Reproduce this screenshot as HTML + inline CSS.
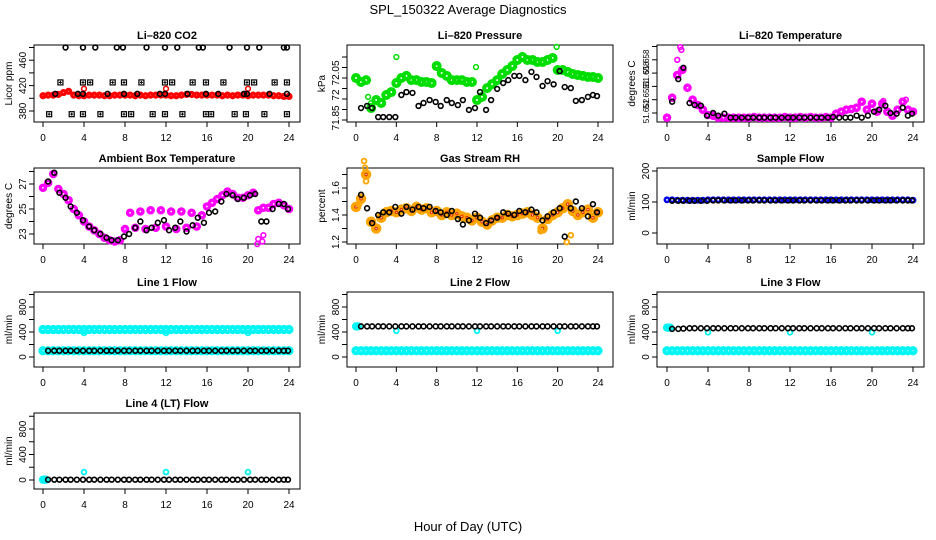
<!DOCTYPE html>
<html><head><meta charset="utf-8"><style>
html,body{margin:0;padding:0;background:#fff;}
svg{display:block;font-family:"Liberation Sans",Arial,sans-serif;}
.t{font-weight:bold;font-size:11px;text-anchor:middle;}
.tk{font-size:10px;text-anchor:middle;}
</style></head><body>
<svg id="chart" width="936" height="540" viewBox="0 0 936 540">
<text x="468" y="14" font-size="13" text-anchor="middle">SPL_150322  Average Diagnostics</text>
<text x="468" y="531" font-size="13" text-anchor="middle">Hour of Day (UTC)</text>
</svg>
<script>
// ---------- shared hour grids ----------
const halfHours = [0,0.5,1,1.5,2,2.5,3,3.5,4,4.5,5,5.5,6,6.5,7,7.5,8,8.5,9,9.5,10,10.5,11,11.5,12,12.5,13,13.5,14,14.5,15,15.5,16,16.5,17,17.5,18,18.5,19,19.5,20,20.5,21,21.5,22,22.5,23,23.5,24];
const sampleHours = [0.5,1.1,1.6,2.2,2.7,3.3,3.9,4.5,5.0,5.6,6.2,6.7,7.3,7.9,8.4,9.0,9.5,10.1,10.6,11.2,11.8,12.3,12.9,13.4,14.0,14.6,15.1,15.7,16.2,16.8,17.4,17.9,18.5,19.0,19.6,20.2,20.7,21.3,21.8,22.4,23.0,23.5,23.9];
const xTickValues = [0,4,8,12,16,20,24];

// ---------- CO2 ----------
const co2Red = [404,405,405,406,409,411,405,404,404,405,405,405,404,404,405,405,405,405,404,405,404,405,405,405,405,404,404,405,406,406,405,405,405,405,405,404,405,404,405,405,404,405,405,405,405,404,404,403,403];
const co2SpikeHours = [4,12,20];
const co2Spike = [415,415,415];
const co2TopHours = [2.2,3.9,5.1,7.2,7.8,10.1,11.9,13.1,15.2,15.6,18.2,19.9,21.1,23.5,23.8];
const co2Top = [480,480,480,480,480,480,480,480,480,480,480,480,480,480,480];
const co2MidHours = [1.2,3.4,3.9,6.3,7.9,9.2,11.4,11.9,14.1,15.9,17.1,19.6,19.9,22.1,23.8];
const co2Mid = [407,407,407,407,407,407,407,407,407,407,407,407,407,407,407];
const co2SqHiHours = [1.7,3.9,4.6,6.8,7.9,9.6,11.9,12.6,14.6,15.9,17.6,19.9,20.6,22.6,23.8];
const co2SqHi = [425,425,425,425,425,425,425,425,425,425,425,425,425,425,425];
const co2SqLoHours = [0.6,2.8,3.9,5.6,7.9,8.6,10.7,11.9,13.6,15.9,16.4,18.7,19.8,21.6,23.8];
const co2SqLo = [375,375,375,375,375,375,375,375,375,375,375,375,375,375,375];

// ---------- Pressure ----------
const presGreen = [72.050,72.031,72.040,71.907,71.945,71.931,71.969,71.983,72.026,72.050,72.060,72.040,72.040,72.031,72.031,72.026,72.107,72.074,72.060,72.040,72.040,72.040,72.031,72.031,71.945,71.960,72.002,72.021,72.040,72.069,72.088,72.107,72.136,72.150,72.136,72.136,72.126,72.126,72.136,72.145,72.088,72.088,72.079,72.069,72.064,72.060,72.055,72.055,72.050];
const presSpikeHours = [4.0,8.0,11.9,19.9,1.2,1.5];
const presSpike = [72.150,72.102,72.102,72.198,71.96,71.93];
const presBlack = [71.907,71.917,71.907,71.864,71.864,71.864,71.864,71.969,71.983,71.979,71.917,71.931,71.945,71.936,71.917,71.945,71.931,71.921,71.945,71.898,71.907,71.983,71.898,71.945,71.998,72.026,72.040,72.060,72.060,72.040,72.079,72.055,72.012,72.035,72.020,72.083,72.007,72.002,71.941,71.945,71.960,71.969,71.964];

// ---------- Li-820 temperature ----------
const liTempMag = [51.6503,51.6533,51.6567,51.6575,51.6548,51.6530,51.6522,51.6515,51.6507,51.6506,51.6503,51.6503,51.6503,51.6503,51.6503,51.6503,51.6503,51.6504,51.6503,51.6503,51.6503,51.6503,51.6503,51.6504,51.6503,51.6503,51.6504,51.6503,51.6504,51.6503,51.6503,51.6504,51.6503,51.6509,51.6512,51.6515,51.6516,51.6518,51.6527,51.6515,51.6524,51.6512,51.6524,51.6512,51.6506,51.6515,51.6527,51.6515,51.6512];
const liTempSpikeHours = [1.3,1.4,1.0,23.3,21.1];
const liTempSpike = [51.6609,51.6605,51.6590,51.6530,51.6528];
const liTempBlack = [51.6527,51.6561,51.6578,51.6525,51.6522,51.6521,51.6506,51.6510,51.6506,51.6509,51.6503,51.6503,51.6503,51.6503,51.6503,51.6503,51.6503,51.6503,51.6503,51.6503,51.6503,51.6503,51.6503,51.6503,51.6503,51.6503,51.6503,51.6503,51.6504,51.6503,51.6503,51.6503,51.6506,51.6503,51.6506,51.6512,51.6515,51.6521,51.6510,51.6509,51.6518,51.6506,51.6509];

// ---------- Ambient box temperature ----------
const ambMag = [26.7,27.1,27.8,26.6,26.2,25.7,25.0,24.5,24.0,23.6,23.3,23.0,22.7,22.5,22.4,22.5,23.4,24.7,23.5,24.8,23.4,24.9,23.5,24.9,23.6,24.8,23.4,24.8,23.5,24.7,23.6,24.5,25.2,25.5,25.8,26.1,26.4,26.2,25.9,25.9,26.1,26.3,24.9,25.1,25.1,25.4,25.5,25.3,25.0];
const ambLowHours = [20.9,21.0,21.4,21.5];
const ambLow = [22.2,22.6,22.4,22.9];
const ambBlack = [27.2,27.9,26.3,25.9,25.2,24.7,24.1,23.6,23.3,23.0,22.7,22.5,22.5,22.8,23.0,23.5,24.0,23.3,23.5,23.9,24.1,23.3,23.5,24.0,23.2,23.7,24.3,23.9,24.7,24.8,25.6,26.2,26.1,25.8,25.9,26.1,26.2,24.0,24.0,25.0,25.4,25.4,25.0];

// ---------- Gas stream RH ----------
const rhOrange = [1.46,1.52,1.70,1.35,1.30,1.38,1.42,1.43,1.42,1.44,1.45,1.43,1.46,1.44,1.45,1.42,1.43,1.40,1.42,1.40,1.41,1.39,1.38,1.36,1.38,1.35,1.33,1.36,1.38,1.38,1.40,1.39,1.40,1.41,1.42,1.40,1.38,1.30,1.37,1.40,1.42,1.45,1.48,1.43,1.40,1.42,1.44,1.38,1.42];
const rhSpikeHours = [0.8,0.9,1.0,20.9,21.3,18.3,0.3];
const rhSpike = [1.80,1.75,1.65,1.20,1.25,1.28,1.48];
const rhBlack = [1.55,1.45,1.34,1.40,1.42,1.42,1.46,1.41,1.46,1.44,1.46,1.45,1.46,1.43,1.42,1.40,1.43,1.37,1.33,1.36,1.41,1.38,1.34,1.36,1.38,1.42,1.41,1.40,1.43,1.42,1.44,1.42,1.36,1.39,1.42,1.45,1.24,1.45,1.50,1.45,1.39,1.48,1.42];

// ---------- Sample flow ----------
const sampleBlue = [107,107,106,106,106,106,106,106,107,107,107,107,107,107,107,107,107,107,107,107,107,107,107,107,107,107,107,107,107,107,107,107,107,107,107,107,107,107,107,107,107,107,107,107,107,107,107,107,106];
const sampleBlack = [104,104,104,104,104,104,104,105,105,105,105,105,105,105,105,105,105,105,105,105,105,105,105,105,105,105,105,105,105,105,105,105,105,105,105,105,105,105,105,105,105,105,105];

// ---------- Line flows ----------
const line1CyanHi = [440,440,440,440,440,440,440,440,440,440,440,440,440,440,440,440,440,440,440,440,440,440,440,440,440,440,440,440,440,440,440,440,440,440,440,440,440,440,440,440,440,440,440,440,440,440,440,440,440];
const line1CyanLo = [100,100,100,100,100,100,100,100,100,100,100,100,100,100,100,100,100,100,100,100,100,100,100,100,100,100,100,100,100,100,100,100,100,100,100,100,100,100,100,100,100,100,100,100,100,100,100,100,100];
const line1Black = [100,100,100,100,100,100,100,100,100,100,100,100,100,100,100,100,100,100,100,100,100,100,100,100,100,100,100,100,100,100,100,100,100,100,100,100,100,100,100,100,100,100,100];
const dipHours = [4,12,20];
const line1Dip = [385,385,385];
const line2CyanHiHours = [0,0.1,0.2];
const line2CyanHi = [490,490,490];
const line2CyanLo = [100,100,100,100,100,100,100,100,100,100,100,100,100,100,100,100,100,100,100,100,100,100,100,100,100,100,100,100,100,100,100,100,100,100,100,100,100,100,100,100,100,100,100,100,100,100,100,100,100];
const line2Black = [490,490,490,490,490,490,490,490,490,490,490,490,490,490,490,490,490,490,490,490,490,490,490,490,490,490,490,490,490,490,490,490,490,490,490,490,490,490,490,490,490,490,490];
const line2Dip = [420,420,420];
const line3CyanHiHours = [0,0.1,0.2,0.3];
const line3CyanHi = [470,470,470,470];
const line3CyanLo = [100,100,100,100,100,100,100,100,100,100,100,100,100,100,100,100,100,100,100,100,100,100,100,100,100,100,100,100,100,100,100,100,100,100,100,100,100,100,100,100,100,100,100,100,100,100,100,100,100];
const line3Black = [450,450,455,460,460,460,460,460,460,460,460,460,460,460,460,460,460,460,460,460,460,460,460,460,460,460,460,460,460,460,460,460,460,460,460,460,460,460,460,460,460,460,460];
const line3Dip = [395,395,395];
const line4CyanHours = [0,0.1,0.2,0.3];
const line4Cyan = [5,5,5,5];
const line4Black = [5,5,5,5,5,5,5,5,5,5,5,5,5,5,5,5,5,5,5,5,5,5,5,5,5,5,5,5,5,5,5,5,5,5,5,5,5,5,5,5,5,5,5];
const line4Spike = [125,125,125];

// ---------- axis ticks ----------
const co2Ticks=[380,400,420,440,460,480], co2Labels=["380","","420","","460",""];
const presTicks=[71.85,71.90,71.95,72.00,72.05,72.10,72.15];
const presLabelPos=[71.86,71.969,72.074], presLabels=["71.85","72","72.05"];
const liTTicks=[51.651,51.653,51.655,51.657,51.659,51.661];
const liTLabelPos=[51.6513,51.6535,51.6553,51.6569,51.6587], liTLabels=["51.652","51.652","51","51.658","51.658"];
const ambTicks=[23,24,25,26,27,28], ambLabels=["23","","25","","27",""];
const rhTicks=[1.2,1.3,1.4,1.5,1.6,1.7], rhLabels=["1.2","","1.4","","1.6",""];
const sfTicks=[0,100,200], sfLabels=["0","100","200"];
const flowTicks=[0,200,400,600,800,1000], flowLabels=["0","","400","","800",""];

const NS="http://www.w3.org/2000/svg";
const svg=document.getElementById('chart');
function mk(tag,attrs,parent){const e=document.createElementNS(NS,tag);for(const k in attrs)e.setAttribute(k,attrs[k]);(parent||svg).appendChild(e);return e;}

function makePanel(name,title,ylab,box,x0,x24,yv1,yp1,yv2,yp2,ticks,labels,labelPos,fs){
  const g=mk('g',{});
  
  
  const p={g,box,xs:h=>x0+h/24*(x24-x0),ys:v=>yp1+(v-yv1)/(yv2-yv1)*(yp2-yp1)};
  const [L,T,R,B]=box;
  const frame=mk('rect',{x:L,y:T,width:R-L,height:B-T,fill:'none',stroke:'#000','stroke-width':1},g);
  
  
  const tt=mk('text',{x:(L+R)/2,y:T-6,class:'t'},g);tt.textContent=title;
  
  
  const yl=mk('text',{x:0,y:0,'font-size':10,'text-anchor':'middle',transform:`translate(${L-22},${(T+B)/2}) rotate(-90)`},g);yl.textContent=ylab;
  
  
  xTickValues.forEach(h=>{
    const x=p.xs(h);
    mk('line',{x1:x,x2:x,y1:B,y2:B+5,stroke:'#000'},g);
    const t=mk('text',{x:x,y:B+19,class:'tk'},g);t.textContent=h;
    
    
  });
  ticks.forEach(v=>{
    const y=p.ys(v);
    mk('line',{x1:L-5,x2:L,y1:y,y2:y,stroke:'#000'},g);
  });
  const lp=labelPos||ticks;
  lp.forEach((v,i)=>{
    if(!labels[i])return;
    const y=p.ys(v);
    const t=mk('text',{x:0,y:0,class:'tk','font-size':fs||10,style:fs?`font-size:${fs}px`:'',transform:`translate(${L-8},${y}) rotate(-90)`},g);t.textContent=labels[i];
    
    
  });
  return p;
}
function pts(p,hours,vals,color,r,sw,series,shape){
  const g=mk('g',{},p.g);
  
  
  vals.forEach((v,i)=>{
    const x=p.xs(hours[i]),y=p.ys(v);
    let e;
    if(shape==='sq'){e=mk('rect',{x:x-2.5,y:y-2.5,width:5,height:5,fill:'none',stroke:color,'stroke-width':sw},g);
      mk('line',{x1:x-1.5,x2:x+1.5,y1:y,y2:y,stroke:color,'stroke-width':1},g);mk('line',{x1:x,x2:x,y1:y-1.5,y2:y+1.5,stroke:color,'stroke-width':1},g);}
    else e=mk('circle',{cx:x,cy:y,r:r,fill:'none',stroke:color,'stroke-width':sw},g);
    
    
  });
}
const BLK='#000',CY='#00f5f5';
const BR=2.4,BW=1.6;

let p=makePanel('co2','Li–820 CO2','Licor ppm',[34,45,300,122],43,289,380,111,480,47.5,co2Ticks,co2Labels);
pts(p,halfHours,co2Red,'#f00',2,3.2,'co2-red');
pts(p,co2SpikeHours,co2Spike,'#f00',2.4,1.5,'co2-red-spikes');
pts(p,co2TopHours,co2Top,BLK,BR,BW,'co2-black-top');
pts(p,co2MidHours,co2Mid,BLK,BR,BW,'co2-black-mid');
pts(p,co2SqHiHours,co2SqHi,BLK,0,1.2,'co2-black-square-high','sq');
pts(p,co2SqLoHours,co2SqLo,BLK,0,1.2,'co2-black-square-low','sq');

p=makePanel('pressure','Li–820 Pressure','kPa',[347,45,613,122],356,598,71.85,120,72.05,78,presTicks,presLabels,presLabelPos);
pts(p,halfHours,presGreen,'#00dd00',3,4,'pressure-green');
pts(p,presSpikeHours,presSpike,'#00dd00',2.4,1.5,'pressure-green-spikes');
pts(p,sampleHours,presBlack,BLK,BR,BW,'pressure-black');

p=makePanel('li-temp','Li–820 Temperature','degrees C',[657,45,924,122],667,913,51.651,113,51.661,46.5,liTTicks,liTLabels,liTLabelPos,8);
pts(p,halfHours,liTempMag,'#f0f',2.6,3.4,'li-temp-magenta');
pts(p,liTempSpikeHours,liTempSpike,'#f0f',2.4,1.6,'li-temp-magenta-spikes');
pts(p,sampleHours,liTempBlack,BLK,BR,BW,'li-temp-black');

p=makePanel('ambient','Ambient Box Temperature','degrees C',[34,168,300,244],43,289,23,234,27,184,ambTicks,ambLabels);
pts(p,halfHours,ambMag,'#f0f',2.6,3.4,'ambient-magenta');
pts(p,ambLowHours,ambLow,'#f0f',2.4,1.6,'ambient-magenta-low');
pts(p,sampleHours,ambBlack,BLK,BR,BW,'ambient-black');

p=makePanel('rh','Gas Stream RH','percent',[347,168,613,244],356,598,1.2,242,1.6,188,rhTicks,rhLabels);
pts(p,halfHours,rhOrange,'#ffa500',3,4.5,'rh-orange');
pts(p,halfHours,rhOrange,'#e03000',1.2,1,'rh-red-core');
pts(p,rhSpikeHours,rhSpike,'#ffa500',2.4,1.8,'rh-orange-spikes');
pts(p,sampleHours,rhBlack,BLK,BR,BW,'rh-black');

p=makePanel('sample-flow','Sample Flow','ml/min',[657,168,924,244],667,913,0,233,200,171,sfTicks,sfLabels);
pts(p,halfHours,sampleBlue,'#0000ee',2.2,2.5,'sample-flow-blue');
pts(p,sampleHours,sampleBlack,BLK,BR,BW,'sample-flow-black');

p=makePanel('line1','Line 1 Flow','ml/min',[34,292,300,367],43,289,0,357,800,307,flowTicks,flowLabels);
pts(p,halfHours,line1CyanHi,CY,2.6,4,'line1-cyan-high');
pts(p,dipHours,line1Dip,CY,2.4,1.8,'line1-cyan-dips');
pts(p,halfHours,line1CyanLo,CY,2.6,4,'line1-cyan-low');
pts(p,sampleHours,line1Black,BLK,BR,BW,'line1-black');

p=makePanel('line2','Line 2 Flow','ml/min',[347,292,613,367],356,598,0,357,800,307,flowTicks,flowLabels);
pts(p,line2CyanHiHours,line2CyanHi,CY,2.6,3,'line2-cyan-high');
pts(p,dipHours,line2Dip,CY,2.4,1.8,'line2-cyan-dips');
pts(p,halfHours,line2CyanLo,CY,2.6,4,'line2-cyan-low');
pts(p,sampleHours,line2Black,BLK,BR,BW,'line2-black');

p=makePanel('line3','Line 3 Flow','ml/min',[657,292,924,367],667,913,0,357,800,307,flowTicks,flowLabels);
pts(p,line3CyanHiHours,line3CyanHi,CY,2.6,3,'line3-cyan-high');
pts(p,dipHours,line3Dip,CY,2.4,1.8,'line3-cyan-dips');
pts(p,halfHours,line3CyanLo,CY,2.6,4,'line3-cyan-low');
pts(p,sampleHours,line3Black,BLK,BR,BW,'line3-black');

p=makePanel('line4','Line 4 (LT) Flow','ml/min',[34,413,300,489],43,289,0,480,800,429,flowTicks,flowLabels);
pts(p,line4CyanHours,line4Cyan,CY,2.6,3,'line4-cyan');
pts(p,dipHours,line4Spike,CY,2.4,1.8,'line4-cyan-spikes');
pts(p,sampleHours,line4Black,BLK,BR,BW,'line4-black');
</script>
</body></html>
